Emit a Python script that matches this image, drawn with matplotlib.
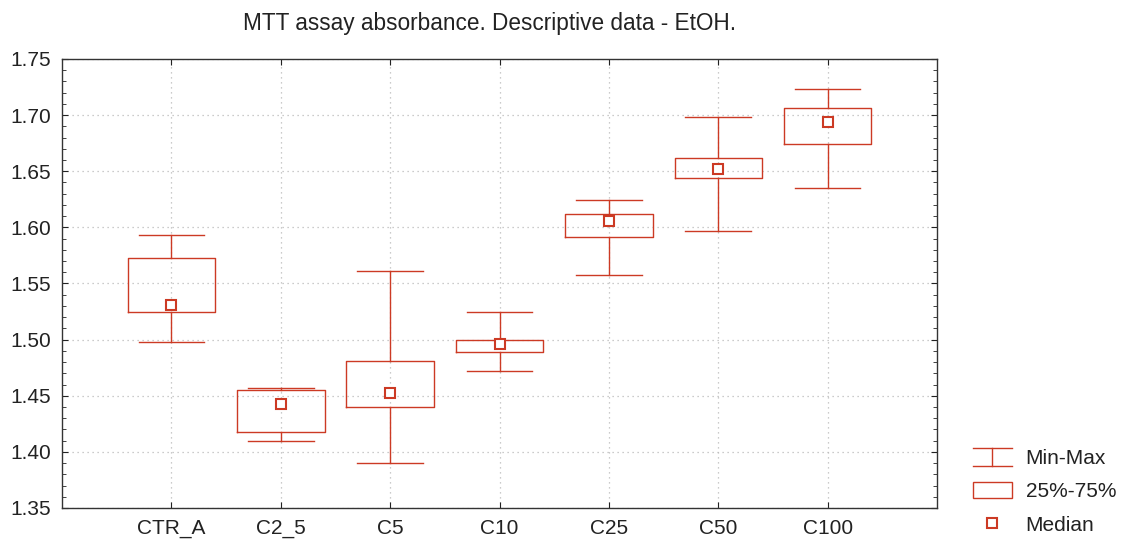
import matplotlib
matplotlib.use("Agg")
import matplotlib.pyplot as plt
from matplotlib.legend_handler import HandlerBase
from matplotlib.lines import Line2D
from matplotlib.patches import Patch
from matplotlib.ticker import MultipleLocator

plt.rcParams['font.family'] = ['Liberation Sans', 'DejaVu Sans']

# data
groups = ['CTR_A', 'C2_5', 'C5', 'C10', 'C25', 'C50', 'C100']
mins = [1.498, 1.410, 1.390, 1.472, 1.558, 1.597, 1.635]
q1s = [1.525, 1.418, 1.440, 1.489, 1.591, 1.644, 1.674]
medians = [1.531, 1.443, 1.452, 1.496, 1.606, 1.652, 1.694]
q3s = [1.573, 1.455, 1.481, 1.500, 1.612, 1.662, 1.706]
maxs = [1.593, 1.457, 1.561, 1.525, 1.624, 1.698, 1.723]

red = '#cc3a24'


class MinMaxHandler(HandlerBase):
    # I-beam glyph for the whisker entry
    def create_artists(self, legend, orig_handle, xdescent, ydescent,
                       width, height, fontsize, trans):
        x0 = -xdescent
        x1 = x0 + width
        xm = (x0 + x1) / 2
        ylo = -ydescent - 0.05 * height
        yhi = -ydescent + 1.05 * height
        kw = dict(color=red, lw=1.0, transform=trans)
        return [Line2D([x0, x1], [yhi, yhi], **kw),
                Line2D([x0, x1], [ylo, ylo], **kw),
                Line2D([xm, xm], [ylo, yhi], **kw)]


fig = plt.figure(figsize=(11.21, 5.41), dpi=100)
ax = fig.add_axes([0.0553, 0.061, 0.7806, 0.830])

stats = []
for i in range(len(groups)):
    stats.append(dict(label=groups[i], whislo=mins[i], q1=q1s[i], med=medians[i],
                      q3=q3s[i], whishi=maxs[i], mean=medians[i], fliers=[]))

pos = list(range(1, len(groups) + 1))
ax.bxp(stats, positions=pos, widths=0.8, capwidths=0.6, showmeans=True,
       showfliers=False,
       boxprops=dict(color=red, lw=1.0),
       whiskerprops=dict(color=red, lw=1.0),
       capprops=dict(color=red, lw=1.0),
       medianprops=dict(lw=0),
       meanprops=dict(marker='s', markersize=7, markerfacecolor='white',
                      markeredgecolor=red, markeredgewidth=1.5, linestyle='none'),
       zorder=3)

ax.set_xlim(0, 8)
ax.set_ylim(1.35, 1.75)
ax.set_xticks(pos)
ax.set_xticklabels(groups)
ax.yaxis.set_major_locator(MultipleLocator(0.05))
ax.yaxis.set_minor_locator(MultipleLocator(0.01))
ax.yaxis.set_major_formatter(matplotlib.ticker.FormatStrFormatter('%.2f'))
ax.tick_params(axis='both', which='both', direction='in', top=True, right=True,
               labelsize=15, colors='#222222')
ax.tick_params(which='major', length=4)
ax.tick_params(which='minor', length=3)
ax.tick_params(axis='x', pad=8)
ax.tick_params(axis='y', pad=8)
ax.grid(True, which='major', linestyle=(0, (1, 3)), color='#bbbbbb', lw=0.9, zorder=0)
for s in ax.spines.values():
    s.set_color('#333333')
    s.set_linewidth(1.0)

ax.set_title('MTT assay absorbance. Descriptive data - EtOH.', fontsize=16.3,
             pad=21, color='#222222', x=0.489)

handles = [Line2D([], []),
           Patch(facecolor='white', edgecolor=red, lw=1.0),
           Line2D([], [], marker='s', linestyle='none', markersize=7,
                  markerfacecolor='white', markeredgecolor=red, markeredgewidth=1.5)]
labels = ['Min-Max', '25%-75%', 'Median']
fig.legend(handles, labels, loc='lower left', bbox_to_anchor=(0.868, 0.012),
           frameon=False, fontsize=15, handlelength=1.86, handleheight=0.85,
           handletextpad=0.67, labelspacing=0.66, borderpad=0, borderaxespad=0,
           handler_map={handles[0]: MinMaxHandler()}, labelcolor='#222222')

fig.savefig('out.png', dpi=100)
